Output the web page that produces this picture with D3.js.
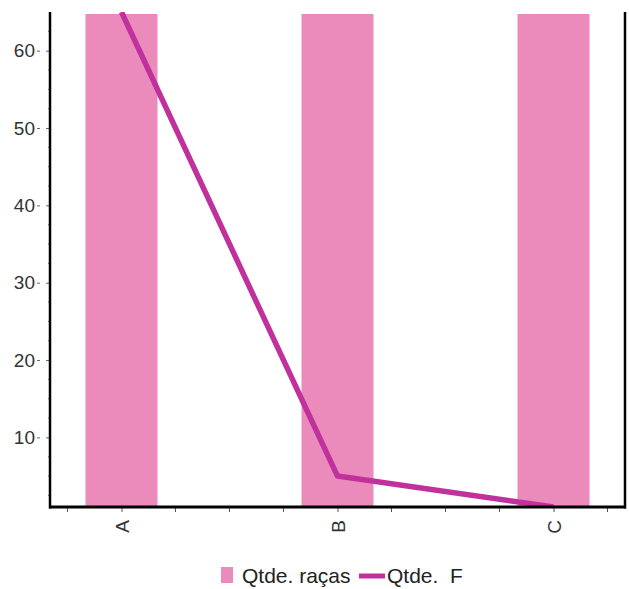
<!DOCTYPE html>
<html>
<head>
<meta charset="utf-8">
<script src="https://cdn.jsdelivr.net/npm/d3@7"></script>
<style>
  html, body { margin: 0; padding: 0; background: #fff; }
  svg { display: block; font-family: "Liberation Sans", Arial, sans-serif; }
</style>
</head>
<body>
<svg id="chart" width="629" height="589"></svg>
<script>
// ---- data ----
const categories = ["A", "B", "C"];
const racas = [65, 65, 65];          // Qtde. raças (bars, run past the top of the plot)
const qtdeF = [65, 5, 1];            // Qtde. F (line)
const yTicks = [10, 20, 30, 40, 50, 60];
const legendLabels = ["Qtde. raças", "Qtde.  F"];

// ---- layout ----
const mLeft = 50, mRight = 625, mTop = 12, mBottom = 507;
const barColor = "#EA8BBB";
const lineColor = "#C0319E";

const svg = d3.select("#chart");

const x = d3.scalePoint().domain(categories).range([mLeft, mRight]).padding(0.331);
const y = d3.scaleLinear().domain([1, 65]).range([mBottom, mTop]);
const step = x.step();
const barW = step / 3;

svg.append("defs").append("clipPath").attr("id", "plotclip")
  .append("rect").attr("x", mLeft).attr("y", mTop).attr("width", mRight - mLeft).attr("height", mBottom - mTop);

const plot = svg.append("g").attr("clip-path", "url(#plotclip)");

// bars
plot.selectAll("rect.bar").data(categories).enter().append("rect")
  .attr("class", "bar")
  .attr("x", d => x(d) - barW / 2)
  .attr("width", barW)
  .attr("y", (d, i) => y(racas[i]) + 2)
  .attr("height", (d, i) => y(1) - y(racas[i]) - 2)
  .attr("fill", barColor);

// line
const line = d3.line().x((d, i) => x(categories[i])).y(d => y(d));
plot.append("path").datum(qtdeF)
  .attr("d", line)
  .attr("fill", "none")
  .attr("stroke", lineColor)
  .attr("stroke-width", 5.5)
  .attr("stroke-linejoin", "round");

// y axis
const yAxis = d3.axisLeft(y).tickValues(yTicks).tickSize(4).tickPadding(11).tickFormat(d3.format("d"));
const gy = svg.append("g").attr("transform", `translate(${mLeft},0)`).call(yAxis);
gy.select(".domain").remove();
gy.selectAll(".tick line").attr("stroke", "#666").attr("stroke-width", 1);
gy.selectAll(".tick text").attr("font-size", 19).attr("fill", "#333")
  .attr("font-family", "'Liberation Sans', Arial, sans-serif");
// small dash right after each label
gy.selectAll(".tick").append("line")
  .attr("x1", -13).attr("x2", -10).attr("stroke", "#666").attr("stroke-width", 1);

// y minor ticks
const yMinor = d3.range(2.5, 65, 2.5).filter(v => v % 10 !== 0);
svg.append("g").selectAll("line").data(yMinor).enter().append("line")
  .attr("x1", mLeft - 2).attr("x2", mLeft)
  .attr("y1", d => y(d)).attr("y2", d => y(d))
  .attr("stroke", "#777").attr("stroke-width", 1);

// x axis
const xAxis = d3.axisBottom(x).tickSize(5).tickPadding(4);
const gx = svg.append("g").attr("transform", `translate(0,${mBottom})`).call(xAxis);
gx.select(".domain").remove();
gx.selectAll(".tick line").attr("stroke", "#555").attr("stroke-width", 1);
gx.selectAll(".tick text")
  .attr("font-size", 19).attr("fill", "#333")
  .attr("font-family", "'Liberation Sans', Arial, sans-serif")
  .attr("transform", "rotate(-90)")
  .attr("text-anchor", "end")
  .attr("x", -13).attr("y", 0).attr("dy", "0.35em");

// x minor ticks (quarter steps)
const xMinor = d3.range(-1, 10).filter(k => k % 4 !== 0).map(k => x(categories[0]) + k * step / 4);
svg.append("g").selectAll("line").data(xMinor).enter().append("line")
  .attr("x1", d => d).attr("x2", d => d)
  .attr("y1", mBottom).attr("y2", mBottom + 5)
  .attr("stroke", "#555").attr("stroke-width", 1);

// frame: left, bottom, right
svg.append("line").attr("x1", mLeft).attr("x2", mLeft).attr("y1", mTop).attr("y2", mBottom + 1.5)
  .attr("stroke", "#000").attr("stroke-width", 2.5);
svg.append("line").attr("x1", mRight).attr("x2", mRight).attr("y1", mTop).attr("y2", mBottom + 1.5)
  .attr("stroke", "#000").attr("stroke-width", 2.5);
svg.append("line").attr("x1", mLeft - 1).attr("x2", mRight + 1).attr("y1", mBottom).attr("y2", mBottom)
  .attr("stroke", "#000").attr("stroke-width", 3);

// legend
const lg = svg.append("g").attr("font-size", 21).attr("fill", "#222");
lg.append("rect").attr("x", 221).attr("y", 567).attr("width", 12).attr("height", 16).attr("fill", barColor);
lg.append("text").attr("x", 242).attr("y", 583).attr("fill", "#222").text(legendLabels[0]);
lg.append("line").attr("x1", 359).attr("x2", 385).attr("y1", 576).attr("y2", 576)
  .attr("stroke", lineColor).attr("stroke-width", 5);
lg.append("text").attr("x", 387).attr("y", 583).attr("fill", "#222")
  .style("white-space", "pre").text(legendLabels[1]);
</script>
</body>
</html>
